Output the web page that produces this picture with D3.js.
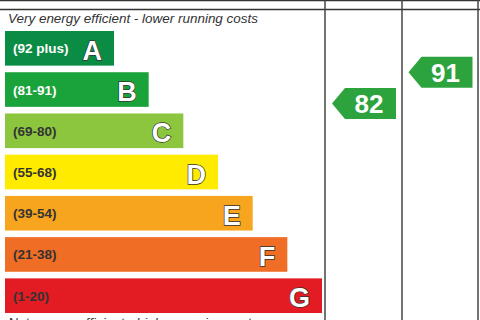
<!DOCTYPE html>
<html lang="en">
	<head>
		<meta charset="UTF-8" />
		<title>Energy Efficiency Rating</title>
		<script src="https://d3js.org/d3.v7.min.js"></script>
		<style>
			body { margin: 0; background: #fff; }
			svg { display: block; font-family: "Liberation Sans", Arial, sans-serif; }
		</style>
	</head>
	<body>
		<svg width="480" height="320"></svg>
		<script>
			// bands of the rating, top to bottom
			var letters = ["A", "B", "C", "D", "E", "F", "G"];
			var ranges = ["(92 plus)", "(81-91)", "(69-80)", "(55-68)", "(39-54)", "(21-38)", "(1-20)"];
			var bandMax = [100, 91, 80, 68, 54, 38, 20];
			var bandMin = [92, 81, 69, 55, 39, 21, 1];
			var colors = ["#0b8c45", "#1ba33b", "#8cc63f", "#ffeb00", "#f7a51e", "#ef6d24", "#e31c24"];
			var rangeTextColor = ["#fff", "#fff", "#333", "#333", "#333", "#333", "#333"];

			// scores shown in the two columns
			var columns = ["Current", "Potential"];
			var scores = [82, 91];

			var svg = d3.select("svg");

			var y = d3.scaleBand().domain(letters).range([31, 313]).paddingInner(0.16).paddingOuter(0);
			// right edge of each bar, A shortest to G longest
			var xRight = d3.scaleLinear().domain([0, 6]).range([114, 322]);
			var colX = d3.scaleBand().domain(columns).range([325, 478]);

			// grid lines
			svg.append("line").attr("x1", 0).attr("x2", 480).attr("y1", 0.5).attr("y2", 0.5)
				.attr("stroke", "#333").attr("stroke-width", 1.5);
			svg.append("line").attr("x1", 0).attr("x2", 480).attr("y1", 9.5).attr("y2", 9.5)
				.attr("stroke", "#333").attr("stroke-width", 1.5);
			[325, 402, 478].forEach(function (cx) {
				svg.append("line").attr("x1", cx).attr("x2", cx).attr("y1", 0).attr("y2", 320)
					.attr("stroke", "#444").attr("stroke-width", 1.5);
			});

			svg.append("text").attr("x", 8).attr("y", 23)
				.attr("font-size", 12).attr("font-style", "italic").attr("fill", "#333")
				.attr("textLength", 250).attr("lengthAdjust", "spacingAndGlyphs")
				.text("Very energy efficient - lower running costs");

			// cut by the bottom edge, as in the source picture
			svg.append("text").attr("x", 8).attr("y", 327)
				.attr("font-size", 12).attr("font-style", "italic").attr("fill", "#333")
				.attr("textLength", 250).attr("lengthAdjust", "spacingAndGlyphs")
				.text("Not energy efficient - higher running costs");

			var bands = svg.selectAll("g.band").data(letters).enter().append("g").attr("class", "band");

			bands.append("rect")
				.attr("x", 5)
				.attr("y", function (d) { return y(d); })
				.attr("width", function (d, i) { return xRight(i) - 5; })
				.attr("height", y.bandwidth())
				.attr("fill", function (d, i) { return colors[i]; });

			bands.append("text")
				.attr("x", 13)
				.attr("y", function (d) { return y(d) + y.bandwidth() / 2 + 5; })
				.attr("font-size", 13.5).attr("font-weight", "bold")
				.attr("fill", function (d, i) { return rangeTextColor[i]; })
				.text(function (d, i) { return ranges[i]; });

			bands.append("text")
				.attr("x", function (d, i) { return xRight(i) - 12; })
				.attr("y", function (d) { return y(d) + 29; })
				.attr("text-anchor", "end")
				.attr("font-size", 27).attr("font-weight", "bold")
				.attr("fill", "#fff").attr("stroke", "#333").attr("stroke-width", 1.4)
				.attr("paint-order", "stroke")
				.text(function (d) { return d; });

			// arrow position inside the band of its score
			function scoreY(s) {
				var i = bandMin.findIndex(function (m) { return s >= m; });
				var sy = d3.scaleLinear().domain([bandMax[i], bandMin[i]])
					.range([y(letters[i]), y(letters[i]) + y.bandwidth()]);
				return sy(s);
			}

			var arrows = svg.selectAll("g.arrow").data(scores).enter().append("g").attr("class", "arrow")
				.attr("transform", function (d, i) {
					return "translate(" + (colX(columns[i]) + 7) + "," + scoreY(d) + ")";
				});

			var aw = 64, ah = 31;
			arrows.append("path")
				.attr("d", "M0,0L13," + (-ah / 2) + "L" + aw + "," + (-ah / 2) + "L" + aw + "," + (ah / 2) + "L13," + (ah / 2) + "Z")
				.attr("fill", "#2ca33c");

			arrows.append("text")
				.attr("x", 37).attr("y", 9.5)
				.attr("text-anchor", "middle")
				.attr("font-size", 26).attr("font-weight", "bold").attr("fill", "#fff")
				.text(function (d) { return d; });
		</script>
	</body>
</html>
